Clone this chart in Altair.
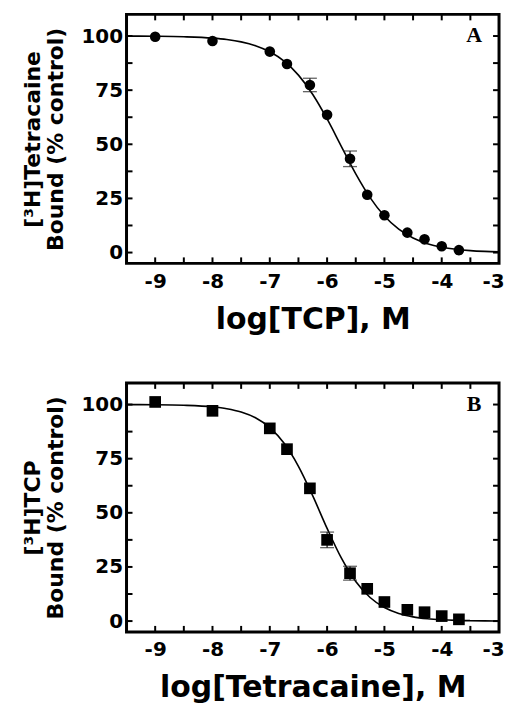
import altair as alt
import pandas as pd

# ---- data ----
LOG_CONC = [-9, -8, -7, -6.7, -6.3, -6, -5.6, -5.3, -5, -4.6, -4.3, -4, -3.7]

A_BOUND = [99.7, 97.7, 92.8, 87.1, 77.4, 63.6, 43.3, 26.7, 17.2, 9.2, 6.1, 2.9, 1.1]
A_ERR = [0, 0, 0, 0, 3.1, 0, 3.6, 0, 0, 0, 0, 0, 0]

B_BOUND = [101.2, 97.1, 89.0, 79.4, 61.3, 37.5, 22.1, 14.9, 8.8, 5.2, 4.1, 2.3, 0.8]
B_ERR = [0, 0, 0, 0, 0, 3.6, 3.2, 0, 0, 0, 0, 0, 0]

CURVE_X = [-9.5, -9, -8.5, -8, -7.75, -7.5, -7.25, -7, -6.75, -6.5, -6.25, -6,
           -5.75, -5.5, -5.25, -5, -4.75, -4.5, -4.25, -4, -3.75, -3.5, -3.25, -3]
A_CURVE = [99.96, 99.88, 99.65, 99.03, 98.37, 97.30, 95.55, 92.75, 88.40, 81.95,
           73.00, 61.69, 48.97, 36.36, 25.39, 16.86, 10.78, 6.71, 4.11, 2.49,
           1.50, 0.90, 0.54, 0.32]
B_CURVE = [99.97, 99.91, 99.68, 98.95, 98.09, 96.57, 93.89, 89.36, 82.10, 71.48,
           57.80, 42.79, 29.02, 18.26, 10.88, 6.25, 3.51, 1.95, 1.08, 0.59,
           0.32, 0.18, 0.10, 0.05]

X_TICKS = [-9, -8.5, -8, -7.5, -7, -6.5, -6, -5.5, -5, -4.5, -4, -3.5, -3]
Y_TICKS = [0, 12.5, 25, 37.5, 50, 62.5, 75, 87.5, 100]
X_DOMAIN = [-9.5, -3]
Y_DOMAIN = [-5, 110]

SANS = "DejaVu Sans"
SERIF = "Liberation Serif"
W, H = 374, 250
TL = 6  # tick length (px)


def panel(bound, err, curve, shape, size, xtitle, ytitle, letter):
    pts = pd.DataFrame({"x": LOG_CONC, "y": bound, "err": err})
    cur = pd.DataFrame({"x": CURVE_X, "y": curve})
    lab = pd.DataFrame({"t": [letter]})
    xt = pd.DataFrame({"v": X_TICKS})
    yt = pd.DataFrame({"v": Y_TICKS})

    xs = alt.Scale(domain=X_DOMAIN, nice=False, zero=False)
    ys = alt.Scale(domain=Y_DOMAIN, nice=False, zero=False)

    x_axis = alt.Axis(orient="bottom", values=X_TICKS, ticks=False, domain=False,
                      grid=False, labelOverlap=False, labelFlush=2,
                      labelFlushOffset=5,
                      labelExpr="datum.value % 1 === 0 ? '' + datum.value : ''",
                      labelFont=SANS, labelFontSize=20, labelFontWeight="bold",
                      labelColor="black", labelPadding=8,
                      title=xtitle, titleFont=SANS, titleFontSize=30,
                      titleFontWeight="bold", titleColor="black", titlePadding=13)
    y_axis = alt.Axis(orient="left", values=Y_TICKS, ticks=False, domain=False,
                      grid=False, labelOverlap=False,
                      labelExpr="datum.value % 25 === 0 ? '' + datum.value : ''",
                      labelFont=SANS, labelFontSize=20, labelFontWeight="bold",
                      labelColor="black", labelPadding=4,
                      title=ytitle, titleFont=SANS, titleFontSize=22,
                      titleLineHeight=23, titleFontWeight="bold",
                      titleColor="black", titlePadding=14)

    def X(field):
        return alt.X(field, scale=xs, axis=x_axis)

    def Y(field):
        return alt.Y(field, scale=ys, axis=y_axis)

    line = alt.Chart(cur).mark_line(color="black", strokeWidth=1.6,
                                    interpolate="monotone").encode(
        x=X("x:Q"), y=Y("y:Q"))

    # inward ticks on all four sides, placed by the scales
    tk = dict(color="black", strokeWidth=2)
    t_left = alt.Chart(yt).mark_rule(**tk).encode(
        y=Y("v:Q"), x=alt.value(0), x2=alt.value(TL))
    t_right = alt.Chart(yt).mark_rule(**tk).encode(
        y=Y("v:Q"), x=alt.value(W - TL), x2=alt.value(W))
    t_bottom = alt.Chart(xt).mark_rule(**tk).encode(
        x=X("v:Q"), y=alt.value(H - TL), y2=alt.value(H))
    t_top = alt.Chart(xt).mark_rule(**tk).encode(
        x=X("v:Q"), y=alt.value(0), y2=alt.value(TL))

    errbase = alt.Chart(pts).transform_filter("datum.err > 0").transform_calculate(
        lo="datum.y - datum.err", hi="datum.y + datum.err")
    rule = errbase.mark_rule(color="#222222", strokeWidth=1.3).encode(
        x=X("x:Q"), y=Y("lo:Q"), y2="hi:Q")
    cap_lo = errbase.mark_tick(orient="horizontal", size=14, thickness=1.3,
                               color="#222222").encode(x=X("x:Q"), y=Y("lo:Q"))
    cap_hi = errbase.mark_tick(orient="horizontal", size=14, thickness=1.3,
                               color="#222222").encode(x=X("x:Q"), y=Y("hi:Q"))

    marks = alt.Chart(pts).mark_point(shape=shape, filled=True, size=size,
                                      color="black", opacity=1).encode(
        x=X("x:Q"), y=Y("y:Q"))

    text = alt.Chart(lab).mark_text(font=SERIF, fontSize=22, fontWeight="bold",
                                    color="black", align="center",
                                    baseline="alphabetic").encode(
        x=alt.value(349), y=alt.value(28), text="t:N")

    return alt.layer(line, t_left, t_right, t_bottom, t_top, rule, cap_lo, cap_hi,
                     marks, text).properties(width=W, height=H)


a = panel(A_BOUND, A_ERR, A_CURVE, "circle", 113, "log[TCP], M",
          ["[³H]Tetracaine", "Bound (% control)"], "A")
b = panel(B_BOUND, B_ERR, B_CURVE, "square", 137, "log[Tetracaine], M",
          ["[³H]TCP", "Bound (% control)"], "B")

chart = alt.vconcat(a, b, spacing=44).properties(
    padding={"left": 11, "top": 2, "right": 0, "bottom": 0},
    background="white",
).configure_view(stroke="black", strokeWidth=3)

chart.save("out.html", embed_options={"renderer": "svg", "actions": False})
